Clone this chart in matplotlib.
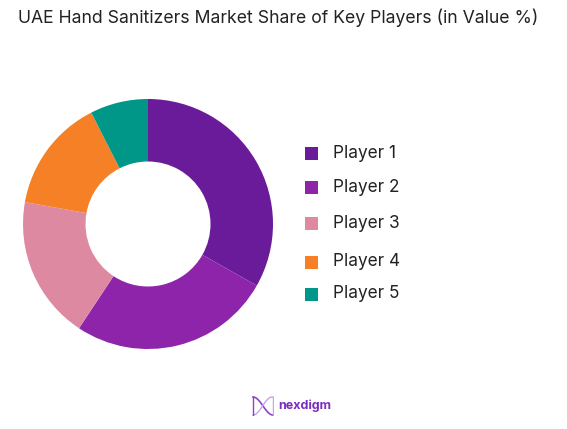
import matplotlib.pyplot as plt
import numpy as np
from matplotlib.patches import Rectangle

# === DATA ===
players = ['Player 1', 'Player 2', 'Player 3', 'Player 4', 'Player 5']
shares = [33.2, 26.1, 18.5, 14.7, 7.5]
colors = ['#6A1B9A', '#8E24AA', '#DE89A2', '#F58025', '#009688']
legend_y = [153, 187, 224, 262, 294]  # pixel rows of legend entries

W, H = 567, 429
plt.rcParams['font.family'] = ['Inter', 'DejaVu Sans']

fig = plt.figure(figsize=(W / 100, H / 100), dpi=100)
fig.patch.set_facecolor('white')

# donut
cx, cy, r = 148, 224, 125
ax = fig.add_axes([(cx - r) / W, (H - cy - r) / H, 2 * r / W, 2 * r / H])
ax.pie(shares, colors=colors, startangle=90, counterclock=False,
       radius=1, wedgeprops=dict(width=0.5, edgecolor='none'))
ax.set_xlim(-1, 1)
ax.set_ylim(-1, 1)
ax.set_aspect('equal')
ax.axis('off')

# title
fig.text(18 / W, 1 - 18 / H, 'UAE Hand Sanitizers Market Share of Key Players (in Value %)',
         fontsize=12.7, color='#222222', ha='left', va='center')

# legend
for name, col, y in zip(players, colors, legend_y):
    fig.patches.append(Rectangle((305 / W, 1 - (y + 6.5) / H), 13 / W, 13 / H,
                                 transform=fig.transFigure, facecolor=col, edgecolor='none'))
    fig.text(333 / W, 1 - y / H, name, fontsize=12.4, color='#222222',
             ha='left', va='center')

# logo
lx = fig.add_axes([252 / W, 1 - 416 / H, 22 / W, 20 / H])
t = np.linspace(0, 1, 50)
lx.plot(t, 0.5 + 0.45 * np.cos(np.pi * t), color='#8E44C8', lw=1.2)
lx.plot(t, 0.5 - 0.45 * np.cos(np.pi * t * 1.05), color='#C8A2E8', lw=1.0)
lx.plot([0.02, 0.02], [0.05, 0.95], color='#8E44C8', lw=1.0)
lx.plot([0.98, 0.98], [0.05, 0.95], color='#C8A2E8', lw=1.0)
lx.set_xlim(-0.05, 1.05)
lx.set_ylim(0, 1)
lx.axis('off')
fig.text(278 / W, 1 - 406 / H, 'nexdigm', fontsize=9, color='#7B2CBF',
         fontweight='bold', ha='left', va='center')

fig.savefig('out.png', dpi=100, facecolor='white')
